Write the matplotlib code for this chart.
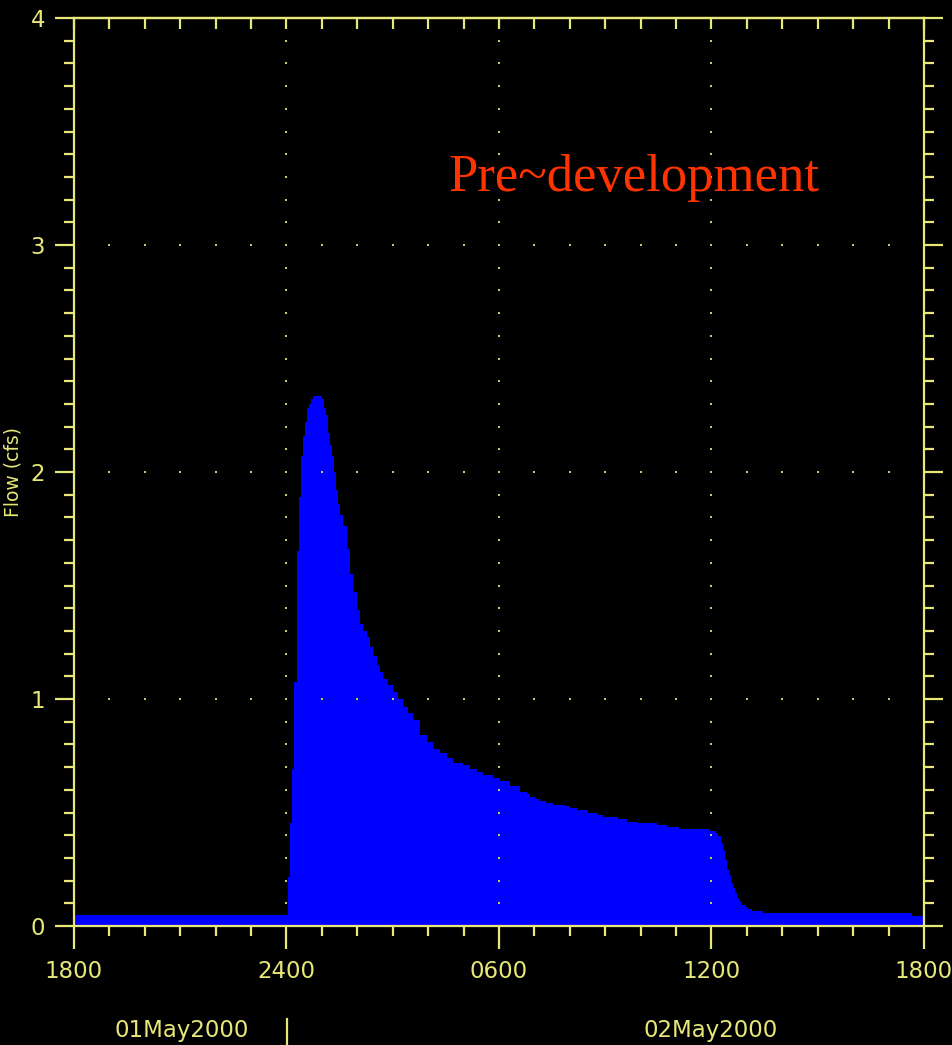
import numpy as np
import matplotlib
matplotlib.use("Agg")
import matplotlib.pyplot as plt
from matplotlib.ticker import MultipleLocator
from matplotlib.lines import Line2D

''' Colours '''
bg = "black"
yellow = "#e8e878"
dot_yellow = "#c8c870"
blue = "#0000ff"
red = "#ff3300"

''' Data: hours after 1800 01May2000, flow in cfs (step values) '''
hours = [0.00, 6.051, 6.099, 6.164, 6.220, 6.288, 6.344, 6.401, 6.457, 6.514,
         6.570, 6.627, 6.683, 6.740, 6.994, 7.050, 7.107, 7.163, 7.220, 7.276,
         7.333, 7.389, 7.446, 7.511, 7.604, 7.700, 7.793, 7.886, 7.982, 8.075,
         8.168, 8.264, 8.358, 8.451, 8.547, 8.640, 8.733, 8.874, 9.015, 9.157,
         9.298, 9.439, 9.580, 9.769, 9.958, 10.145, 10.334, 10.523, 10.710, 10.992,
         11.181, 11.370, 11.557, 11.839, 12.028, 12.311, 12.593, 12.782, 12.875, 13.016,
         13.158, 13.327, 13.516, 13.863, 14.005, 14.194, 14.521, 14.795, 14.936, 15.360,
         15.614, 15.896, 16.461, 16.743, 17.082, 17.957, 18.127, 18.183, 18.259, 18.316,
         18.372, 18.429, 18.485, 18.542, 18.598, 18.655, 18.711, 18.768, 18.824, 18.937,
         18.994, 19.135, 19.463, 23.652, 24.0]
flow = [0.048, 0.215, 0.454, 0.69, 1.077, 1.65, 1.89, 2.07, 2.16, 2.22,
        2.28, 2.30, 2.32, 2.335, 2.32, 2.28, 2.25, 2.17, 2.12, 2.07,
        2.00, 1.92, 1.86, 1.81, 1.76, 1.66, 1.55, 1.47, 1.39, 1.33,
        1.30, 1.275, 1.23, 1.19, 1.15, 1.12, 1.09, 1.06, 1.03, 1.00,
        0.966, 0.937, 0.907, 0.84, 0.81, 0.78, 0.76, 0.74, 0.72, 0.71,
        0.69, 0.68, 0.665, 0.65, 0.64, 0.615, 0.59, 0.58, 0.57, 0.56,
        0.55, 0.54, 0.535, 0.527, 0.52, 0.51, 0.50, 0.49, 0.48, 0.47,
        0.46, 0.455, 0.444, 0.436, 0.427, 0.417, 0.408, 0.397, 0.364, 0.335,
        0.29, 0.247, 0.225, 0.188, 0.166, 0.144, 0.122, 0.111, 0.0925, 0.085,
        0.075, 0.066, 0.056, 0.045, 0.045]

x_ticks = [0, 6, 12, 18, 24]
x_labels = ["1800", "2400", "0600", "1200", "1800"]
y_ticks = [0, 1, 2, 3, 4]
dates = ["01May2000", "02May2000"]
title = "Pre~development"

''' Figure '''
W, H = 953, 1045
fig = plt.figure(figsize=(W / 100, H / 100), dpi=100, facecolor=bg)
ax = fig.add_axes([74 / W, (H - 926) / H, 850 / W, 908 / H], facecolor=bg)

ax.fill_between(hours, flow, step="post", color=blue, lw=0, zorder=2)

ax.set_xlim(0, 24)
ax.set_ylim(0, 4)

# dotted grid: dots at minor positions along major lines
minor_h = np.arange(1, 24)
minor_q = np.round(np.arange(0.1, 4.0, 0.1), 2)
gx, gy = [], []
for h in [6, 12, 18]:
    gx += [h] * len(minor_q)
    gy += list(minor_q)
for q in [1, 2, 3]:
    gx += list(minor_h)
    gy += [q] * len(minor_h)
ax.scatter(gx, gy, s=2.2, marker="s", color=dot_yellow, lw=0, zorder=3)

for sp in ax.spines.values():
    sp.set_color(yellow)
    sp.set_linewidth(1.6)
    sp.set_zorder(5)

lab_font = dict(family="DejaVu Sans", size=16.5)

ax.set_xticks(x_ticks, labels=x_labels)
ax.xaxis.set_minor_locator(MultipleLocator(1))
ax.set_yticks(y_ticks, labels=[str(v) for v in y_ticks])
ax.yaxis.set_minor_locator(MultipleLocator(0.1))

ax.tick_params(axis="x", which="major", direction="out", length=16.5, width=1.6,
               color=yellow, labelcolor=yellow, pad=8, bottom=True, top=False)
ax.tick_params(axis="x", which="minor", direction="out", length=7.5, width=1.6,
               color=yellow, bottom=True, top=False)
ax.tick_params(axis="y", which="major", direction="out", length=13.7, width=1.6,
               color=yellow, labelcolor=yellow, pad=7, left=True, right=True)
ax.tick_params(axis="y", which="minor", direction="out", length=7.5, width=1.6,
               color=yellow, left=True, right=True)
for lbl in ax.get_xticklabels() + ax.get_yticklabels():
    lbl.set_fontfamily(lab_font["family"])
    lbl.set_fontsize(lab_font["size"])

# top axis with ticks pointing into the plot
top = ax.secondary_xaxis("top")
top.set_xticks(x_ticks)
top.xaxis.set_minor_locator(MultipleLocator(1))
top.tick_params(axis="x", which="both", direction="in", length=8, width=1.6,
                color=yellow, labeltop=False)
top.spines["top"].set_color(yellow)
top.spines["top"].set_linewidth(1.6)

ax.set_ylabel("Flow (cfs)", color=yellow, family="DejaVu Sans", fontsize=13.5,
              labelpad=6)

ax.text(10.56, 3.24, title, color=red, family="Liberation Serif", fontsize=38,
        ha="left", va="baseline", zorder=6)

''' Date labels under the axis '''
fig.text(182 / W, (H - 1031) / H, dates[0], color=yellow, ha="center", va="center",
         **lab_font)
fig.text(711 / W, (H - 1031) / H, dates[1], color=yellow, ha="center", va="center",
         **lab_font)
fig.add_artist(Line2D([287 / W, 287 / W], [0, (H - 1019) / H], color=yellow, lw=1.6,
                      transform=fig.transFigure))

plt.savefig("out.png", dpi=100, facecolor=bg)
